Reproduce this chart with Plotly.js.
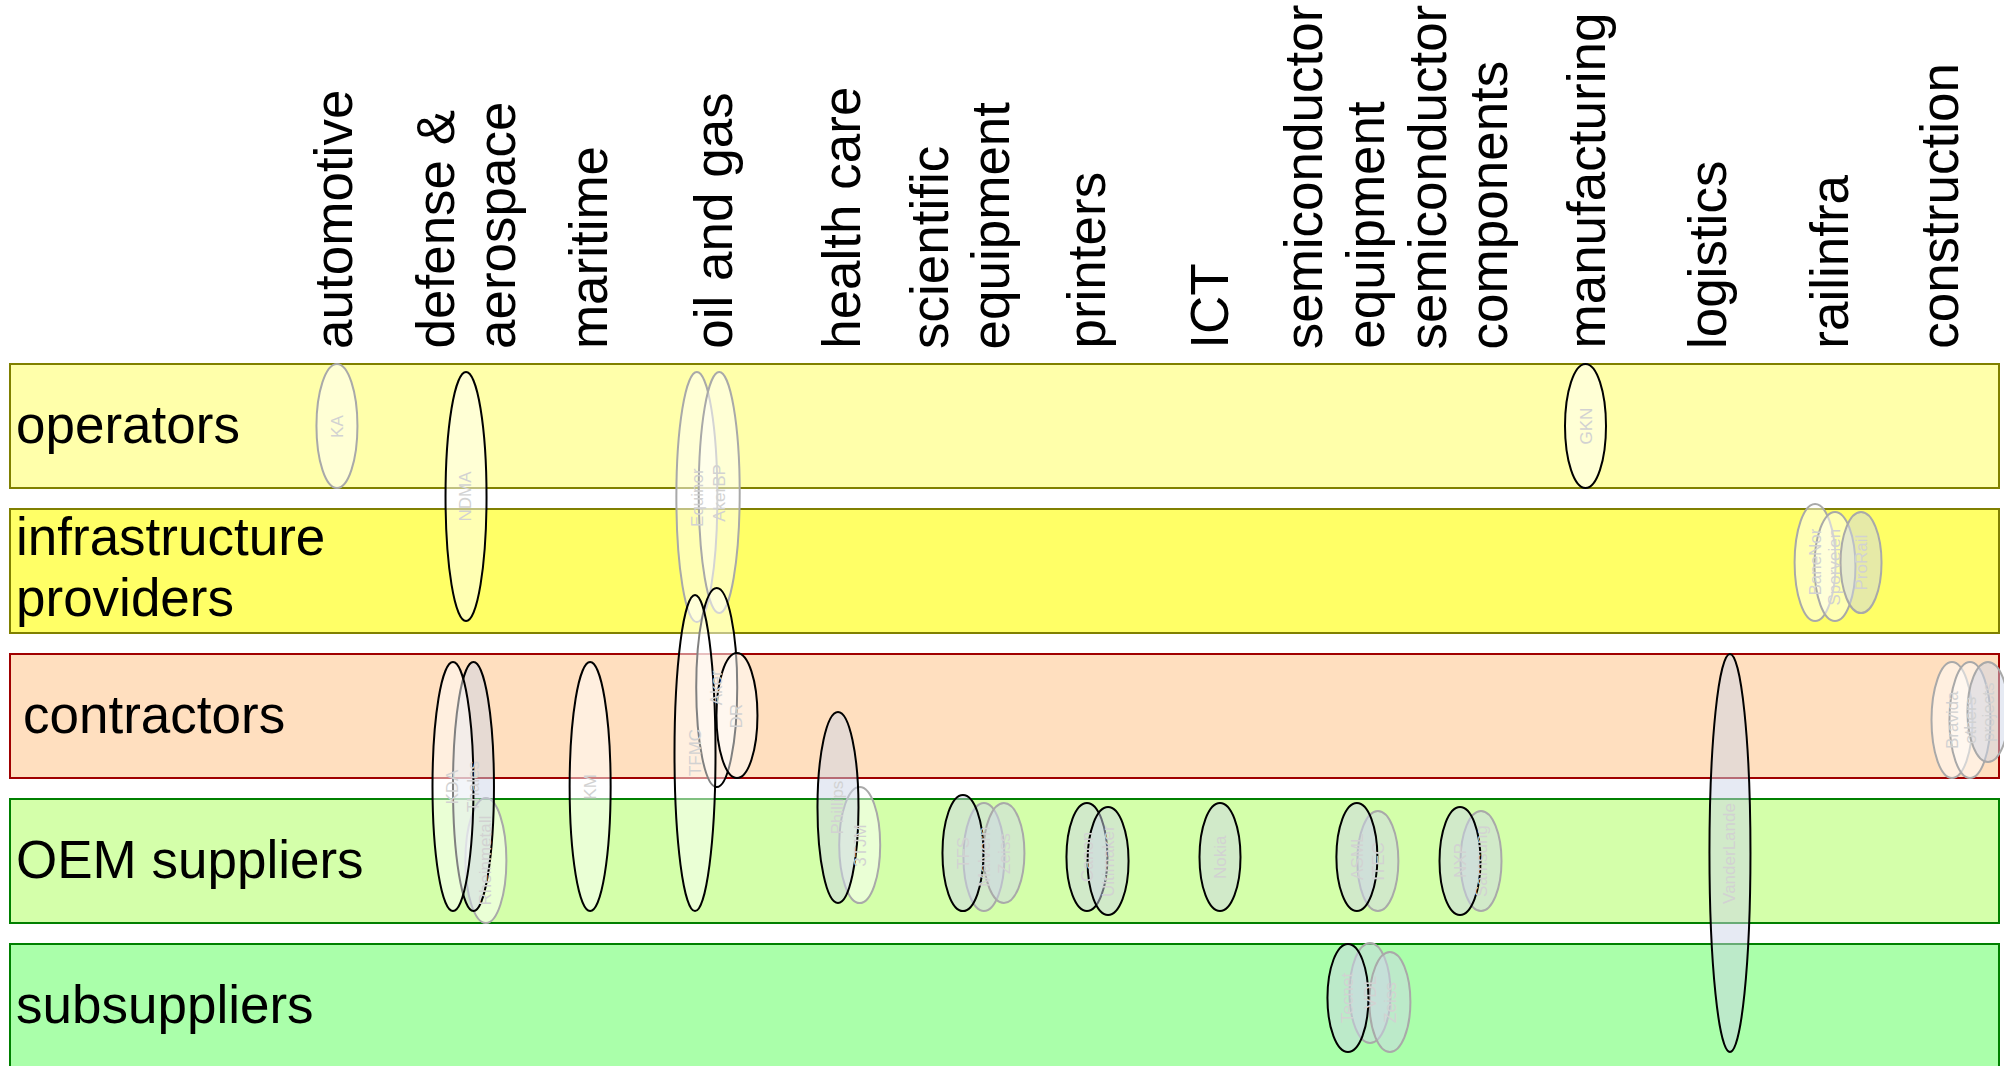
<!DOCTYPE html>
<html>
<head>
<meta charset="utf-8">
<script src="https://cdn.plot.ly/plotly-3.0.1.min.js"></script>
<style>html,body{margin:0;padding:0;background:#fff;}#chart{width:2004px;height:1066px;}</style>
</head>
<body>
<div id="chart"></div>
<script>
// ---- data ----
const sectorLines = [
  ['automotive'], ['defense &', 'aerospace'], ['maritime'], ['oil and gas'], ['health care'],
  ['scientific', 'equipment'], ['printers'], ['ICT'], ['semiconductor', 'equipment'],
  ['semiconductor', 'components'], ['manufacturing'], ['logistics'], ['railinfra'], ['construction']
];
const roleLines = [['operators'], ['infrastructure', 'providers'], ['contractors'], ['OEM suppliers'], ['subsuppliers']];

// companies: x in sector units, vertical extent in role units
const compNames = ['KA','NDMA','Equinor','AkerBP','GKN','BaneNor','Sporveien','ProRail',
  'Thales','KDA','Rheinmetall','KM','Aker','TFMC','DR','3TJM','Phillips','Malvern','Zeiss','TFS',
  'Canon','Ultimaker','Nokia','ITEC','ASML','Samsung','NXP','VanderLande','VDL','Zeiss','Tecnet',
  'Bravida','others','projects'];
const compX = [-0.06,0.98,2.84,3.02,10.0,11.85,12.01,12.22,
  1.04,0.875,1.14,1.98,3.0,2.825,3.163,4.152,3.977,5.153,5.314,4.984,
  5.983,6.153,7.055,8.327,8.158,9.158,8.989,11.164,8.264,8.424,8.086,
  12.953,13.098,13.243];
const compTop = [-0.428,-0.372,-0.372,-0.372,-0.428,0.538,0.593,0.593,
  1.628,1.628,2.566,1.628,1.117,1.166,1.566,2.49,1.972,2.6,2.6,2.545,
  2.6,2.628,2.6,2.655,2.6,2.655,2.628,1.572,3.566,3.628,3.572,
  1.628,1.628,1.628];
const compBottom = [0.428,1.345,1.352,1.29,0.428,1.345,1.345,1.29,
  3.345,3.345,3.428,3.345,2.49,3.345,2.428,3.29,3.29,3.345,3.29,3.345,
  3.345,3.372,3.345,3.345,3.345,3.345,3.372,4.317,4.255,4.317,4.317,
  2.428,2.428,2.317];
const compHighlight = [0,1,0,0,1,0,0,0,
  1,1,0,1,1,1,1,0,1,0,0,1,
  1,1,1,0,1,0,1,1,0,0,1,
  0,0,0];
const compTinted = [0,0,0,0,0,0,0,1,
  1,0,0,0,0,0,0,0,1,1,1,1,
  1,1,1,1,1,1,1,1,1,1,1,
  0,0,1];

// ---- styling / layout ----
const roleFill = ['#ffffaa', '#ffff66', '#ffdfbf', '#d4ffaa', '#aaffaa'];
const roleLine = ['#808000', '#808000', '#a00000', '#008000', '#008000'];
const roleIndent = [4, 4, 11, 4, 4];          // px, label indent
const roleNudgeY = [2, 4, 2, 2, 2];           // px, upward
const labelNudge = [-11, -3, -4, -4, 0, -5, -3, -4, -3, -3, 0, -2, -5, -19]; // px, sector header fine-tune

const W = 2004, H = 1066;
const xPx0 = 344.4, xStep = 124.11;      // sector 0 position and spacing (px)
const yPx0 = 426, yStep = 145;            // role 0 centre and spacing (px)
const xRange = [-xPx0 / xStep, (W - xPx0) / xStep];
const yRange = [(H - yPx0) / yStep, -yPx0 / yStep];
const bandHalf = 62 / yStep;
const ellHalfW = 20.5 / xStep;
const FONT = 'Liberation Sans, Arial, Helvetica, sans-serif';
const BIG = 53;

const shapes = [];
const annotations = [];

roleLines.forEach((r, i) => {
  shapes.push({
    type: 'rect', xref: 'paper', yref: 'y', x0: 10 / W, x1: 1999 / W,
    y0: i - bandHalf, y1: i + bandHalf,
    fillcolor: roleFill[i], line: {color: roleLine[i], width: 2}, layer: 'below'
  });
  r.forEach((t, k) => {
    annotations.push({
      xref: 'paper', yref: 'y', x: (10 + roleIndent[i]) / W, y: i, xanchor: 'left', yanchor: 'middle',
      yshift: -(k - (r.length - 1) / 2) * 61 + roleNudgeY[i], text: t, showarrow: false,
      font: {family: FONT, size: BIG, color: '#000'}
    });
  });
});

sectorLines.forEach((s, i) => {
  s.forEach((t, k) => {
    annotations.push({
      xref: 'x', yref: 'paper', x: i, y: 1 - 351 / H, xanchor: 'center', yanchor: 'bottom',
      xshift: (k - (s.length - 1) / 2) * 61 + labelNudge[i], textangle: -90, text: t, showarrow: false,
      font: {family: FONT, size: BIG, color: '#000'}
    });
  });
});

// grey companies first, highlighted ones on top
const order = compNames.map((_, i) => i).sort((a, b) => compHighlight[a] - compHighlight[b] || a - b);
order.forEach(i => {
  shapes.push({
    type: 'circle', xref: 'x', yref: 'y',
    x0: compX[i] - ellHalfW, x1: compX[i] + ellHalfW, y0: compTop[i], y1: compBottom[i],
    fillcolor: compTinted[i] ? 'rgba(205,214,232,0.5)' : 'rgba(255,255,255,0.5)',
    line: {color: compHighlight[i] ? '#000000' : '#a9a9a9', width: 2}
  });
});
compNames.forEach((n, i) => {
  annotations.push({
    xref: 'x', yref: 'y', x: compX[i], y: (compTop[i] + compBottom[i]) / 2,
    textangle: -90, text: n, showarrow: false,
    font: {family: FONT, size: 17, color: '#d2d2d2'}
  });
});

const layout = {
  width: W, height: H, margin: {l: 0, r: 0, t: 0, b: 0},
  paper_bgcolor: '#ffffff', plot_bgcolor: '#ffffff',
  xaxis: {range: xRange, visible: false, fixedrange: true},
  yaxis: {range: yRange, visible: false, fixedrange: true},
  shapes: shapes, annotations: annotations, showlegend: false
};
Plotly.newPlot('chart', [], layout, {displayModeBar: false, staticPlot: true});
</script>
</body>
</html>
